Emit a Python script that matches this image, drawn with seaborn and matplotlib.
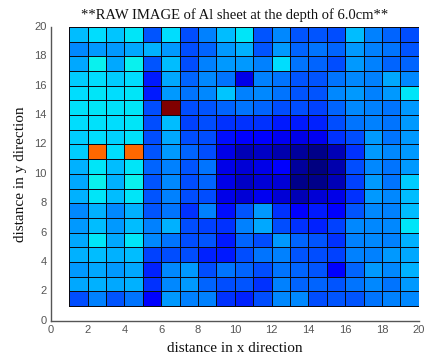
import numpy as np
import pandas as pd
import matplotlib
matplotlib.use("Agg")
import matplotlib.pyplot as plt
import seaborn as sns

# ---- data -------------------------------------------------------------
x_cells = list(range(1, 20))          # left edge of each cell column (x = 1 .. 19)
y_cells = list(range(19, 0, -1))      # lower edge of each cell row, top row first

row_19 = [31, 34, 32, 35, 21, 34, 20, 25, 31, 35, 21, 26, 21, 21, 20, 31, 25, 22.5, 20]
row_18 = [26, 27.5, 27.5, 29, 30, 27.5, 20, 22.5, 27.5, 30, 21, 27.5, 22.5, 24, 22.5, 27.5, 25, 24, 21]
row_17 = [29, 36, 29, 36, 21, 31, 20, 25, 27.5, 27.5, 25, 34, 24, 22.5, 20, 27.5, 25, 22.5, 22.5]
row_16 = [32.5, 34, 32.5, 34, 15, 29, 22.5, 26, 24, 9, 25, 24, 21, 21, 24, 26, 25, 29, 26]
row_15 = [34, 35, 34, 35, 15, 27.5, 24, 26, 32, 25, 26, 24, 21, 21, 26, 27.5, 25, 27.5, 35]
row_14 = [34.5, 35, 34.5, 35, 20, 100, 20, 21, 22.5, 24, 22.5, 20, 20, 19, 22.5, 26, 25, 24, 27.5]
row_13 = [34, 34.5, 34, 35, 20, 31, 19, 20, 17.5, 17.5, 17.5, 15, 15, 16, 20, 24, 25, 24, 27.5]
row_12 = [32.5, 34, 33, 34.5, 20, 29, 20, 20, 14, 11, 11, 10, 9, 10, 17.5, 20, 27.5, 24, 27.5]
row_11 = [32.5, 80, 34, 80, 21, 27.5, 22.5, 20, 9, 5, 6, 4, 2.5, 1, 5, 17.5, 27.5, 26, 27.5]
row_10 = [30, 35, 31, 35, 22.5, 25, 21, 24, 9, 7.5, 9, 12, 2.5, 0, 4, 20, 26, 24, 27.5]
row_9 = [29, 36, 30, 36, 21, 26, 20, 22.5, 9, 6, 7.5, 7.5, 1, 1, 5, 19, 27.5, 24, 32.5]
row_8 = [30, 35, 31, 35, 21, 25, 20, 20, 9, 7.5, 10, 7.5, 5, 7.5, 9, 17.5, 27.5, 26, 31]
row_7 = [26, 30, 26, 30, 21, 24, 17.5, 25, 14, 21, 27.5, 17.5, 12, 15, 12, 21, 26, 25, 31]
row_6 = [27.5, 31, 27.5, 31, 25, 30, 20, 19, 17.5, 25, 29, 20, 17.5, 16, 19, 26, 26, 26, 35]
row_5 = [29, 35, 29, 35, 26, 24, 20, 21, 15, 22.5, 20, 27.5, 22.5, 21, 17.5, 25, 26, 25, 30]
row_4 = [30, 31, 30, 31, 19, 20, 20, 16, 15, 20, 24, 25, 21, 20, 19, 25, 25, 27.5, 29]
row_3 = [27.5, 29, 27.5, 29, 16, 26, 27.5, 20, 24, 22.5, 20, 24, 22.5, 21, 12, 22.5, 27.5, 26, 30]
row_2 = [29, 30, 29, 30, 17.5, 26, 27.5, 22.5, 20, 21, 17.5, 25, 22.5, 22.5, 21, 24, 26, 24, 27.5]
row_1 = [20, 25, 21, 24, 11, 27.5, 25, 25, 17.5, 16, 20, 26, 26, 20, 21, 21, 24, 25, 26]

rows = [row_19, row_18, row_17, row_16, row_15, row_14, row_13, row_12, row_11, row_10,
        row_9, row_8, row_7, row_6, row_5, row_4, row_3, row_2, row_1]

x_ticks = [0, 2, 4, 6, 8, 10, 12, 14, 16, 18, 20]
y_ticks = [0, 2, 4, 6, 8, 10, 12, 14, 16, 18, 20]
x_range = (0, 20)
y_range = (0, 20)

title = "**RAW IMAGE of Al sheet at the depth of 6.0cm**"
x_label = "distance in x direction"
y_label = "distance in y direction"

# ---- figure -----------------------------------------------------------
sns.set_style("white")
plt.rcParams['font.family'] = ['DejaVu Sans']

df = pd.DataFrame(rows, index=y_cells, columns=x_cells)

fig = plt.figure(figsize=(4.27, 3.58), dpi=100)
ax = fig.add_axes([0.119, 0.104, 0.862, 0.821])

sns.heatmap(df, ax=ax, cmap="jet", vmin=0, vmax=100, cbar=False,
            linewidths=0.6, linecolor="#0a0a14", square=False)

# heatmap cell j sits at [j, j+1]; map data coordinates onto it
x_off = x_cells[0]
y_top = y_cells[0] + 1
def xp(v):
    return v - x_off
def yp(v):
    return y_top - v

ax.set_xlim(xp(x_range[0]), xp(x_range[1]))
ax.set_ylim(yp(y_range[0]), yp(y_range[1]))
ax.set_xticks([xp(v) for v in x_ticks])
ax.set_xticklabels([str(v) for v in x_ticks], rotation=0)
ax.set_yticks([yp(v) for v in y_ticks])
ax.set_yticklabels([str(v) for v in y_ticks], rotation=0)

for side in ["left", "bottom"]:
    ax.spines[side].set_visible(True)
    ax.spines[side].set_color("#555555")
    ax.spines[side].set_linewidth(1.0)
for side in ["top", "right"]:
    ax.spines[side].set_visible(False)

ax.tick_params(axis="both", direction="in", length=3, width=0.8, color="#555555",
               labelsize=8, labelcolor="#555555", pad=3)
for lab in ax.get_xticklabels() + ax.get_yticklabels():
    lab.set_family("Liberation Sans")

serif = ["Liberation Serif", "DejaVu Serif"]
ax.set_title(title, family=serif, fontsize=10.5, pad=6, color="#111111")
ax.set_xlabel(x_label, family=serif, fontsize=11, labelpad=5, color="#111111")
ax.set_ylabel(y_label, family=serif, fontsize=11, labelpad=5, color="#111111")

fig.savefig("out.png", dpi=100, facecolor="white")
